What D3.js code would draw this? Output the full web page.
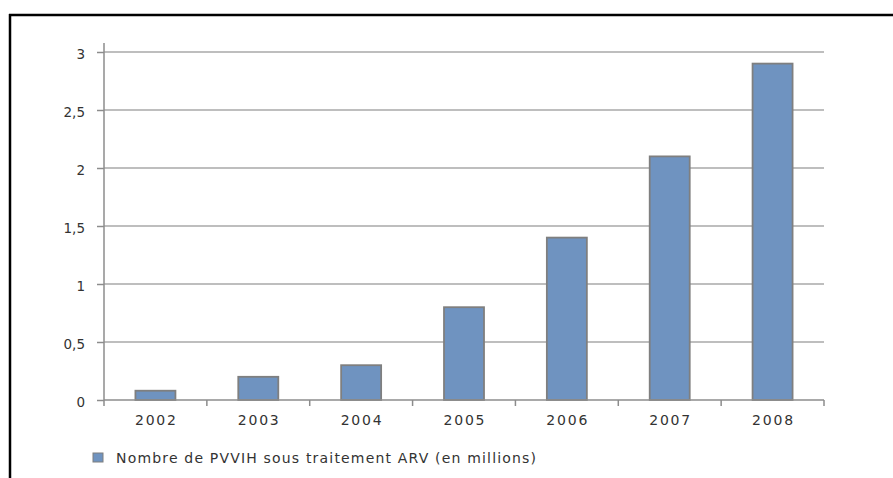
<!DOCTYPE html>
<html><head><meta charset="utf-8">
<script src="https://cdn.jsdelivr.net/npm/d3@7"></script>
<style>body{margin:0;background:#fff}svg{display:block}</style>
</head><body>
<svg id="c" width="893" height="478"></svg>
<script>
const categories = ["2002","2003","2004","2005","2006","2007","2008"];
const values = [0.08, 0.2, 0.3, 0.8, 1.4, 2.1, 2.9];
const yTicks = [0, 0.5, 1, 1.5, 2, 2.5, 3];
const seriesName = "Nombre de PVVIH sous traitement ARV (en millions)";

(function(){
const svg = d3.select("#c");
const font = "'DejaVu Sans', 'Open Sans', sans-serif";
const pLeft = 104, pRight = 824, pTop = 52, pBottom = 400;

// frame
svg.append("line").attr("x1",9).attr("x2",893).attr("y1",15).attr("y2",15).attr("stroke","#000").attr("stroke-width",2.5);
svg.append("line").attr("x1",10).attr("x2",10).attr("y1",14).attr("y2",478).attr("stroke","#000").attr("stroke-width",2.5);

const x = d3.scaleBand().domain(categories).range([pLeft, pRight]).paddingInner(0).paddingOuter(0);
const y = d3.scaleLinear().domain([0, 3]).range([pBottom, pTop]);

// gridlines
svg.append("g").selectAll("line").data(yTicks.filter(d=>d>0)).join("line")
  .attr("x1", pLeft).attr("x2", pRight).attr("y1", d=>y(d)).attr("y2", d=>y(d))
  .attr("stroke","#a8a8a8").attr("stroke-width",1.5);

// y axis
const yAxis = d3.axisLeft(y).tickValues(yTicks).tickSize(7).tickPadding(12)
  .tickFormat(d => String(d).replace(".", ","));
const gy = svg.append("g").attr("transform",`translate(${pLeft},0)`).call(yAxis);
gy.select(".domain").remove();
gy.selectAll(".tick line").attr("stroke","#8c8c8c").attr("stroke-width",1.5);
gy.selectAll("text").attr("font-family",font).attr("font-size",13.5).attr("fill","#333")
  .attr("dy","0.5em");
svg.append("line").attr("x1",pLeft).attr("x2",pLeft).attr("y1",43).attr("y2",pBottom)
  .attr("stroke","#8c8c8c").attr("stroke-width",1.5);

// bars
const bw = 40;
svg.append("g").selectAll("rect").data(values).join("rect")
  .attr("x", (d,i)=>x(categories[i]) + x.bandwidth()/2 - bw/2)
  .attr("width", bw)
  .attr("y", d=>y(d))
  .attr("height", d=>y(0)-y(d))
  .attr("fill","#6f93c0").attr("stroke","#7f7f7f").attr("stroke-width",1.8);

// x axis
const xAxis = d3.axisBottom(x).tickSize(0).tickPadding(15);
const gx = svg.append("g").attr("transform",`translate(0,${pBottom})`).call(xAxis);
gx.select(".domain").remove();
gx.selectAll("text").attr("font-family",font).attr("font-size",14).attr("fill","#333")
  .attr("textLength",41).attr("lengthAdjust","spacing");
svg.append("line").attr("x1",pLeft).attr("x2",pRight).attr("y1",pBottom).attr("y2",pBottom)
  .attr("stroke","#8c8c8c").attr("stroke-width",1.5);
const bounds = categories.map(c=>x(c)).concat([pRight]);
svg.append("g").selectAll("line").data(bounds).join("line")
  .attr("x1",d=>d).attr("x2",d=>d).attr("y1",pBottom).attr("y2",pBottom+6)
  .attr("stroke","#8c8c8c").attr("stroke-width",1.5);

// legend
svg.append("rect").attr("x",93).attr("y",453).attr("width",10).attr("height",9)
  .attr("fill","#6f93c0").attr("stroke","#7f7f7f").attr("stroke-width",1);
svg.append("text").attr("x",116).attr("y",463).text(seriesName)
  .attr("font-family",font).attr("font-size",14).attr("fill","#333")
  .attr("textLength",420).attr("lengthAdjust","spacing");
})();
</script>
</body></html>
